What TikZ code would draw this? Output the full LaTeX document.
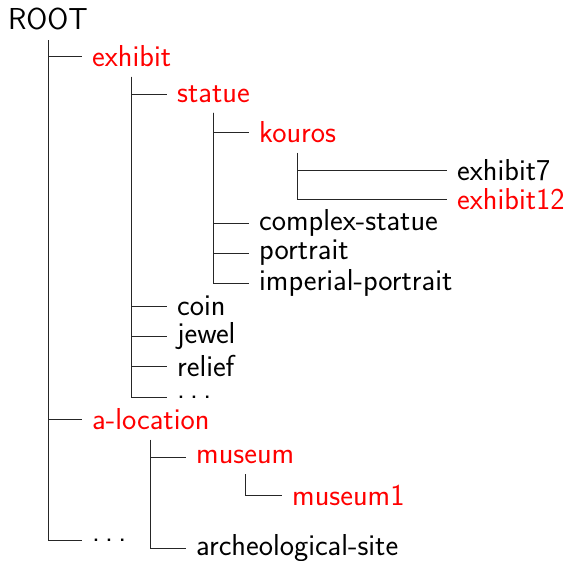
\documentclass[tikz,border=0pt]{standalone}
\usepackage{xcolor}
\newcommand{\spdots}{.\kern0.17em.\kern0.17em.}
\begin{document}
\begin{tikzpicture}[x=1pt,y=-1pt,
  every node/.style={font=\sffamily\fontsize{30.3}{36}\selectfont, inner sep=10pt},
  lab/.style={anchor=west},
  hl/.style={lab, text=red},
  edge/.style={draw=black!85, line width=1pt}]
\useasboundingbox (0,0) rectangle (569,560);
\node[anchor=south] (root) at (48,40) {ROOT};
\node[hl] (exhibit) at (82,56) {exhibit};
\node[hl] (statue) at (167,94) {statue};
\node[hl] (kouros) at (249,132) {kouros};
\node[lab] (ex7) at (447,170) {exhibit7};
\node[hl] (ex12) at (447,199) {exhibit12};
\node[lab] (complex) at (249,223) {complex-statue};
\node[lab] (portrait) at (249,253) {portrait};
\node[lab] (imperial) at (249,283) {imperial-portrait};
\node[lab] (coin) at (167,306) {coin};
\node[lab] (jewel) at (167,336) {jewel};
\node[lab] (relief) at (167,366) {relief};
\node[lab] (dotsA) at (167,397) {\spdots};
\node[hl] (aloc) at (82,419) {a-location};
\node[hl] (museum) at (186,457) {museum};
\node[hl] (museum1) at (282,495) {museum1};
\node[lab] (arch) at (186,548) {archeological-site};
\node[lab] (dotsB) at (82,540) {\spdots};
\foreach \p/\c in {root/exhibit, root/aloc, root/dotsB,
  exhibit/statue, exhibit/coin, exhibit/jewel, exhibit/relief, exhibit/dotsA,
  statue/kouros, statue/complex, statue/portrait, statue/imperial,
  kouros/ex7, kouros/ex12,
  aloc/museum, aloc/arch, museum/museum1}
  \draw[edge] (\p.south) |- (\c.west);
\end{tikzpicture}
\end{document}
